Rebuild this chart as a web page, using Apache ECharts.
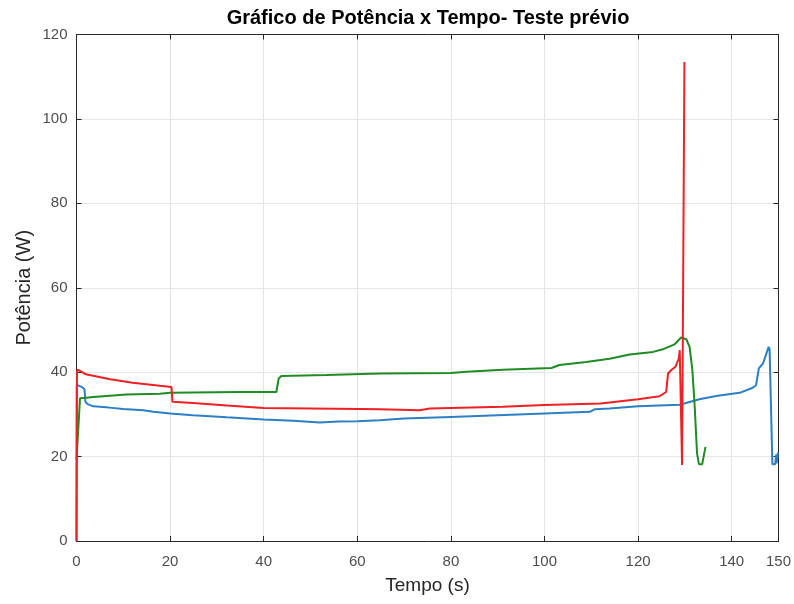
<!DOCTYPE html>
<html>
<head>
<meta charset="utf-8">
<script src="https://cdn.jsdelivr.net/npm/echarts@6/dist/echarts.min.js"></script>
<style>
  html, body { margin: 0; padding: 0; background: #ffffff; }
  #chart { width: 794px; height: 604px; }
</style>
</head>
<body>
<div id="chart"></div>
<script>
// Power readings (W) over time (s) for three test runs
const tempoAzul = [0, 0.05, 1.1, 1.7, 1.9, 2.3, 3.6, 7, 10, 14.3, 16.4, 20, 24.9, 32.1, 40, 46.3, 52, 55.9, 60, 64.8, 70, 80, 90, 100, 109.7, 110.7, 113.9, 120, 128.9, 133.1, 137, 141.7, 144.5, 145.2, 145.8, 146.7, 147.9, 148.1, 148.7, 149.3, 149.5, 149.6, 149.9];
const potenciaAzul = [0, 37.0, 36.5, 36.0, 33.0, 32.5, 31.9, 31.6, 31.3, 31.0, 30.6, 30.2, 29.8, 29.3, 28.8, 28.5, 28.1, 28.3, 28.4, 28.6, 29.0, 29.4, 29.8, 30.2, 30.6, 31.2, 31.4, 31.9, 32.3, 33.6, 34.4, 35.1, 36.3, 36.9, 40.9, 42.1, 46.0, 45.4, 18.2, 18.2, 20.5, 18.4, 21.0];

const tempoVerde = [0, 0.3, 0.75, 1.5, 3.6, 10.7, 17.8, 20, 24.9, 35, 42.7, 43.2, 43.8, 53.4, 64.8, 80, 83.3, 91.1, 101.5, 103.2, 108.9, 113.9, 118.2, 123.2, 125.5, 127.8, 129.2, 130.3, 131.0, 131.6, 132.1, 132.6, 133.0, 133.7, 134.4];
const potenciaVerde = [19.3, 25, 33.8, 33.9, 34.1, 34.7, 34.9, 35.1, 35.2, 35.3, 35.3, 38.5, 39.1, 39.3, 39.7, 39.8, 40.1, 40.6, 41.0, 41.7, 42.4, 43.2, 44.2, 44.8, 45.5, 46.6, 48.2, 47.8, 46.0, 40.5, 31.8, 20.7, 18.2, 18.2, 22.3];

const tempoVermelho = [0, 0.1, 0.3, 2, 7.2, 12, 17.8, 20.3, 20.5, 24.9, 32.1, 40, 49.9, 60.5, 64.8, 73.3, 75.5, 91.1, 100, 112, 120, 124.6, 126.0, 126.4, 127.1, 128.0, 128.7, 128.9, 129.2, 129.4, 129.9];
const potenciaVermelho = [0, 40.1, 40.6, 39.5, 38.3, 37.5, 36.8, 36.5, 33.0, 32.7, 32.1, 31.5, 31.4, 31.3, 31.2, 31.0, 31.4, 31.8, 32.2, 32.6, 33.6, 34.3, 35.3, 39.7, 40.5, 41.3, 43.3, 45.2, 45.6, 18.0, 113.5];

const ticksTempo = [0, 20, 40, 60, 80, 100, 120, 140, 150];

function pares(ts, vs) {
  return ts.map((t, i) => [t, vs[i]]);
}

const corEixo = '#262626';
const corTexto = '#4d4d4d';
const fonte = 'Liberation Sans, Arial, Helvetica, sans-serif';

const chart = echarts.init(document.getElementById('chart'), null, { renderer: 'canvas' });

const eixoX = {
  type: 'value', min: 0, max: 150, interval: 20,
  axisLine: { show: true, onZero: false, lineStyle: { color: corEixo, width: 1 } },
  axisTick: { show: true, inside: true, length: 5, lineStyle: { color: corEixo } },
  splitLine: { show: false }
};
const eixoY = {
  type: 'value', min: 0, max: 120, interval: 20,
  axisLine: { show: true, onZero: false, lineStyle: { color: corEixo, width: 1 } },
  axisTick: { show: true, inside: true, length: 5, lineStyle: { color: corEixo } },
  splitLine: { show: false }
};

chart.setOption({
  animation: false,
  backgroundColor: '#ffffff',
  title: {
    text: 'Gráfico de Potência x Tempo- Teste prévio',
    left: 423, top: 3, textAlign: 'center',
    textStyle: { fontFamily: fonte, fontSize: 20, fontWeight: 'bold', color: '#000000' }
  },
  grid: { left: 76.5, right: 15, top: 34.5, bottom: 63 },
  xAxis: [
    Object.assign({}, eixoX, {
      position: 'bottom',
      name: 'Tempo (s)', nameLocation: 'middle', nameGap: 35,
      nameMoveOverlap: false,
      nameTextStyle: { fontFamily: fonte, fontSize: 19, color: corEixo },
      axisLabel: {
        fontFamily: fonte, fontSize: 15, color: corTexto, margin: 13,
        showMaxLabel: true,
        formatter: v => (ticksTempo.indexOf(v) >= 0 ? String(v) : '')
      },
      splitLine: { show: true, lineStyle: { color: '#e5e5e5', width: 1 } }
    }),
    Object.assign({}, eixoX, { position: 'top', axisLabel: { show: false } })
  ],
  yAxis: [
    Object.assign({}, eixoY, {
      position: 'left',
      name: 'Potência (W)', nameLocation: 'middle', nameGap: 42,
      nameMoveOverlap: false,
      nameTextStyle: { fontFamily: fonte, fontSize: 20, color: corEixo },
      axisLabel: { fontFamily: fonte, fontSize: 15, color: corTexto, margin: 9 },
      splitLine: { show: true, lineStyle: { color: '#e5e5e5', width: 1 } }
    }),
    Object.assign({}, eixoY, { position: 'right', axisLabel: { show: false } })
  ],
  series: [
    {
      type: 'line', data: pares(tempoAzul, potenciaAzul), showSymbol: false,
      lineStyle: { color: '#2d7fc4', width: 2 }, itemStyle: { color: '#2d7fc4' }, z: 2
    },
    {
      type: 'line', data: pares(tempoVerde, potenciaVerde), showSymbol: false,
      lineStyle: { color: '#1e8c22', width: 2 }, itemStyle: { color: '#1e8c22' }, z: 3
    },
    {
      type: 'line', data: pares(tempoVermelho, potenciaVermelho), showSymbol: false,
      lineStyle: { color: '#ee2024', width: 2 }, itemStyle: { color: '#ee2024' }, z: 4
    }
  ]
});
</script>
</body>
</html>
